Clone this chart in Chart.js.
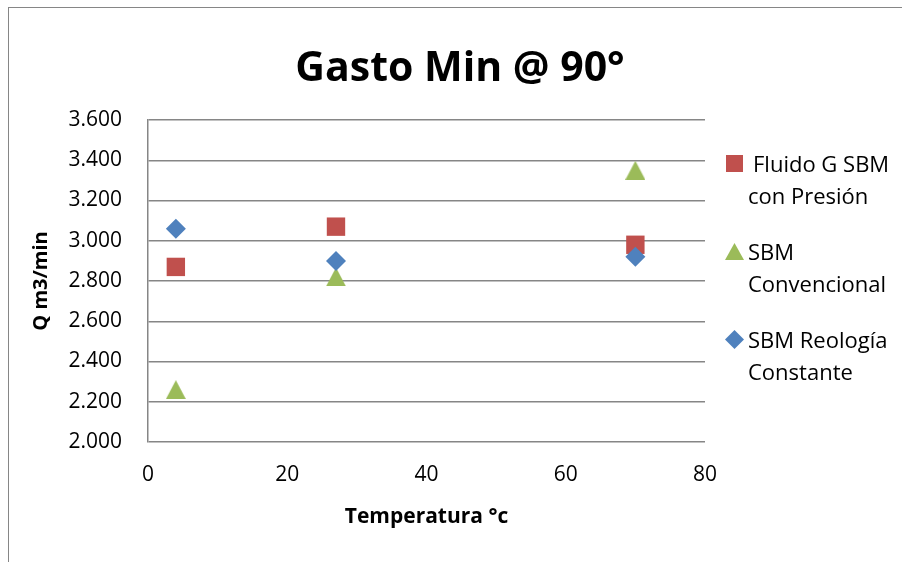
<!DOCTYPE html>
<html>
<head>
<meta charset="utf-8">
<script src="https://cdn.jsdelivr.net/npm/chart.js@4"></script>
<style>
  html, body { margin: 0; padding: 0; background: #fff; overflow: hidden; }
  #wrap { position: relative; width: 902px; height: 562px; }
  #frame {
    position: absolute; left: 8px; top: 7px; width: 1000px; height: 700px;
    border-left: 1.5px solid #868686; border-top: 1.5px solid #868686;
  }
  #chart { position: absolute; left: 0; top: 0; }
  #title {
    position: absolute; left: 0; top: 37px; width: 920px; height: 41px;
    line-height: 41px; text-align: center;
    font: bold 41px "Open Sans", sans-serif; color: #000;
  }
  #legend {
    position: absolute; left: 725px; top: 147px;
    font: 22px "Open Sans", sans-serif; color: #000;
  }
  .item { position: relative; padding-left: 23px; line-height: 32px; margin-bottom: 24px; }
  .item.lead div:first-of-type { padding-left: 5px; }
  .mark { position: absolute; left: 0; top: 8px; width: 17px; height: 17px; }
  .mark.square { left: 1px; }
  .mark.triangle { clip-path: polygon(50% 0, 100% 100%, 0 100%); width: 19px; }
  .mark.diamond { clip-path: polygon(50% 0, 100% 50%, 50% 100%, 0 50%); width: 19px; height: 19px; top: 7px; }
</style>
</head>
<body>
<div id="wrap">
  <div id="frame"></div>
  <canvas id="chart" width="902" height="562"></canvas>
  <div id="title">Gasto Min @ 90°</div>
  <div id="legend"></div>
</div>
<script>
// data
const temps = [4, 27, 70];
const fluidoG = [2.87, 3.07, 2.98];
const sbmConvencional = [2.26, 2.82, 3.35];
const sbmReologia = [3.06, 2.90, 2.92];
const seriesNames = [
  ['Fluido G SBM', 'con Presión'],
  ['SBM', 'Convencional'],
  ['SBM Reología', 'Constante'],
];
const yTicks = [2.0, 2.2, 2.4, 2.6, 2.8, 3.0, 3.2, 3.4, 3.6];
const xTicks = [0, 20, 40, 60, 80];

const colors = ['#C0504D', '#9BBB59', '#4F81BD'];
const radii = [13, 10, 10];
const cssShapes = ['square', 'triangle', 'diamond'];
const FONT = '"Open Sans", sans-serif';
const GRID = '#868686';

// excel centres the triangle on its box, chart.js on its circumcentre,
// so draw a small triangle image instead
function triangleImage(color) {
  const c = document.createElement('canvas');
  c.width = 20;
  c.height = 19;
  const g = c.getContext('2d');
  g.fillStyle = color;
  g.beginPath();
  g.moveTo(10, 0);
  g.lineTo(20, 19);
  g.lineTo(0, 19);
  g.closePath();
  g.fill();
  return c;
}

const shapes = ['rect', triangleImage(colors[1]), 'rectRot'];

function toPoints(ys) {
  return temps.map((t, i) => ({ x: t, y: ys[i] }));
}

const allSeries = [fluidoG, sbmConvencional, sbmReologia];
const datasets = allSeries.map((ys, i) => ({
  label: seriesNames[i].join(' '),
  data: toPoints(ys),
  pointStyle: shapes[i],
  pointRadius: radii[i],
  pointHoverRadius: radii[i],
  backgroundColor: colors[i],
  borderColor: colors[i],
  borderWidth: 0,
  showLine: false,
  order: 2 - i,
}));

new Chart(document.getElementById('chart'), {
  type: 'scatter',
  data: { datasets: datasets },
  options: {
    responsive: false,
    animation: false,
    layout: { padding: { top: 120, right: 197, bottom: 0, left: 0 } },
    plugins: {
      legend: { display: false },
      title: { display: false },
      tooltip: { enabled: false },
    },
    scales: {
      x: {
        type: 'linear',
        min: 0,
        max: 80,
        afterBuildTicks: (scale) => { scale.ticks = xTicks.map((v) => ({ value: v })); },
        afterFit: (scale) => { scale.height = 120; },
        grid: { display: false, drawTicks: false },
        border: { display: false },
        ticks: { color: '#000', font: { family: FONT, size: 21 }, padding: 20, maxRotation: 0 },
        title: {
          display: true,
          text: 'Temperatura °c',
          color: '#000',
          font: { family: FONT, size: 21, weight: 'bold' },
          padding: { top: 0, bottom: 32 },
        },
      },
      y: {
        type: 'linear',
        min: 2.0,
        max: 3.6,
        afterBuildTicks: (scale) => { scale.ticks = yTicks.map((v) => ({ value: v })); },
        afterFit: (scale) => { scale.width = 148; },
        grid: { color: GRID, lineWidth: 1.5, drawTicks: false, tickLength: 0 },
        border: { display: true, color: GRID, width: 1.5 },
        ticks: {
          color: '#000',
          font: { family: FONT, size: 21 },
          padding: 26,
          callback: (v) => Number(v).toFixed(3),
        },
        title: {
          display: true,
          text: 'Q m3/min',
          color: '#000',
          font: { family: FONT, size: 20, weight: 'bold' },
          padding: { top: 29, bottom: 0 },
        },
      },
    },
  },
});

// legend with wrapped names, like the original
const legend = document.getElementById('legend');
seriesNames.forEach((lines, i) => {
  const item = document.createElement('div');
  item.className = 'item' + (i === 0 ? ' lead' : '');
  const mark = document.createElement('span');
  mark.className = 'mark ' + cssShapes[i];
  mark.style.background = colors[i];
  item.appendChild(mark);
  lines.forEach((line) => {
    const row = document.createElement('div');
    row.textContent = line;
    item.appendChild(row);
  });
  legend.appendChild(item);
});
</script>
</body>
</html>
